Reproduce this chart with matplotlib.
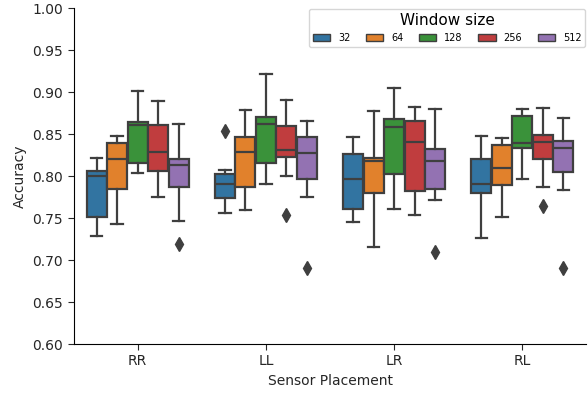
import matplotlib
matplotlib.use('Agg')
import matplotlib.pyplot as plt
from matplotlib.patches import Patch

placements = ['RR', 'LL', 'LR', 'RL']
windows = ['32', '64', '128', '256', '512']
colors = ['#3274a1', '#e1812c', '#3a923a', '#c03d3e', '#9372b2']

# box stats: [whislo, q1, med, q3, whishi] per placement, per window
stats = {
    'RR': [[0.728, 0.751, 0.800, 0.806, 0.822],
           [0.743, 0.785, 0.820, 0.839, 0.848],
           [0.804, 0.816, 0.861, 0.864, 0.901],
           [0.775, 0.806, 0.828, 0.861, 0.889],
           [0.746, 0.787, 0.813, 0.820, 0.862]],
    'LL': [[0.756, 0.774, 0.791, 0.802, 0.807],
           [0.760, 0.787, 0.828, 0.846, 0.879],
           [0.791, 0.816, 0.862, 0.870, 0.922],
           [0.800, 0.823, 0.831, 0.860, 0.890],
           [0.775, 0.797, 0.827, 0.847, 0.865]],
    'LR': [[0.745, 0.761, 0.797, 0.826, 0.847],
           [0.716, 0.780, 0.818, 0.822, 0.877],
           [0.761, 0.802, 0.858, 0.868, 0.905],
           [0.753, 0.782, 0.841, 0.865, 0.882],
           [0.771, 0.784, 0.818, 0.832, 0.880]],
    'RL': [[0.726, 0.780, 0.791, 0.820, 0.848],
           [0.751, 0.789, 0.809, 0.837, 0.845],
           [0.796, 0.833, 0.839, 0.871, 0.880],
           [0.787, 0.820, 0.840, 0.849, 0.881],
           [0.783, 0.805, 0.833, 0.842, 0.869]],
}
fliers = {
    'RR': [[], [], [], [], [0.719]],
    'LL': [[0.853], [], [], [0.754], [0.691]],
    'LR': [[], [], [], [], [0.709]],
    'RL': [[], [], [], [0.764], [0.691]],
}

gray = '#3f3f3f'
fig = plt.figure(figsize=(5.88, 3.96), dpi=100)
ax = fig.add_axes([73.6 / 588, 52 / 396, (586.4 - 73.6) / 588, 336 / 396])

width = 0.8 / len(windows)
for i, p in enumerate(placements):
    for j, w in enumerate(windows):
        lo, q1, med, q3, hi = stats[p][j]
        pos = i - 0.4 + width * (j + 0.5)
        bx = ax.bxp([dict(whislo=lo, q1=q1, med=med, q3=q3, whishi=hi, fliers=fliers[p][j])],
                    positions=[pos], widths=width * 0.98, patch_artist=True,
                    boxprops=dict(facecolor=colors[j], edgecolor=gray, linewidth=1.6),
                    medianprops=dict(color=gray, linewidth=1.6),
                    whiskerprops=dict(color=gray, linewidth=1.6),
                    capprops=dict(color=gray, linewidth=1.6),
                    flierprops=dict(marker='d', markerfacecolor=gray, markeredgecolor=gray, markersize=7))
        for c in bx['caps']:
            x = c.get_xdata()
            mid = (x[0] + x[1]) / 2
            c.set_xdata([mid - width * 0.28, mid + width * 0.28])

ax.set_xlim(-0.5, 3.5)
ax.set_ylim(0.60, 1.00)
ax.set_xticks(range(len(placements)))
ax.set_xticklabels(placements)
ax.set_yticks([0.60, 0.65, 0.70, 0.75, 0.80, 0.85, 0.90, 0.95, 1.00])
ax.set_yticklabels(['0.60', '0.65', '0.70', '0.75', '0.80', '0.85', '0.90', '0.95', '1.00'])
ax.tick_params(labelsize=10, colors='#262626', length=4)
ax.set_xlabel('Sensor Placement', fontsize=10, color='#262626')
ax.set_ylabel('Accuracy', fontsize=10, color='#262626')
for s in ['top', 'right']:
    ax.spines[s].set_visible(False)

handles = [Patch(facecolor=c, edgecolor=gray, label=w) for c, w in zip(colors, windows)]
leg = ax.legend(handles=handles, title='Window size', ncol=5, loc='upper right',
                fontsize=7, title_fontsize=11, borderaxespad=0.1,
                columnspacing=1.6, handlelength=1.8)

plt.savefig('out.png', dpi=100)
